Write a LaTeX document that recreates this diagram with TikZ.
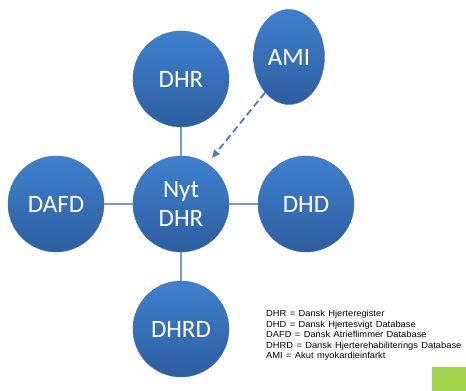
\documentclass[tikz,border=0pt]{standalone}
\usepackage{fontspec}
\setmainfont{Carlito}
\newfontfamily\legendfont[FakeStretch=1.06,WordSpace=1.3]{Liberation Sans}
\usetikzlibrary{arrows.meta,shapes.geometric,positioning}

\definecolor{bluetop}{HTML}{3F80CF}
\definecolor{bluebot}{HTML}{2D5E9E}
\definecolor{linkblue}{HTML}{7C9CC4}
\definecolor{dashblue}{HTML}{4A7CC0}
\definecolor{cornergreen}{HTML}{A4D44C}

\tikzset{
  reg/.style={circle, top color=bluetop, bottom color=bluebot, draw=bluebot!90, line width=0.4pt,
    minimum size=96pt, inner sep=0pt, text=white, font=\fontsize{25}{29}\selectfont, align=center},
  link/.style={draw=linkblue, line width=1.3pt}
}

\begin{document}
\begin{tikzpicture}[x=1pt, y=-1pt, node distance=125pt]
\useasboundingbox (0,0) rectangle (466,391);
\node[reg] at (181,204) (Nyt) {Nyt\\DHR};
\node[reg, above of=Nyt] (DHR) {DHR};
\node[reg, below of=Nyt] (DHRD) {DHRD};
\node[reg, left of=Nyt] (DAFD) {DAFD};
\node[reg, right of=Nyt] (DHD) {DHD};
\node[reg, ellipse, minimum width=71pt, minimum height=95pt] at (289,57) (AMI) {AMI};
\coordinate (tip) at (212,158);

\path[link] (Nyt) edge (DHR)
            (Nyt) edge (DHRD)
            (Nyt) edge (DAFD)
            (Nyt) edge (DHD);
\draw[dashblue, line width=1.8pt, dash pattern=on 7pt off 4pt, -{Triangle[length=8pt,width=7pt]}]
  (AMI.-124) -- (tip);

\node[anchor=north west, align=left, inner sep=0pt,
  font=\legendfont\fontsize{8.8}{10.6}\selectfont] at (266,310) (legend)
  {DHR = Dansk Hjerteregister\\
   DHD = Dansk Hjertesvigt Database\\
   DAFD = Dansk Atrieflimmer Database\\
   DHRD = Dansk Hjerterehabiliterings Database\\
   AMI = Akut myokardieinfarkt};
\fill[cornergreen] (432,367) rectangle (466,391);
\end{tikzpicture}
\end{document}
